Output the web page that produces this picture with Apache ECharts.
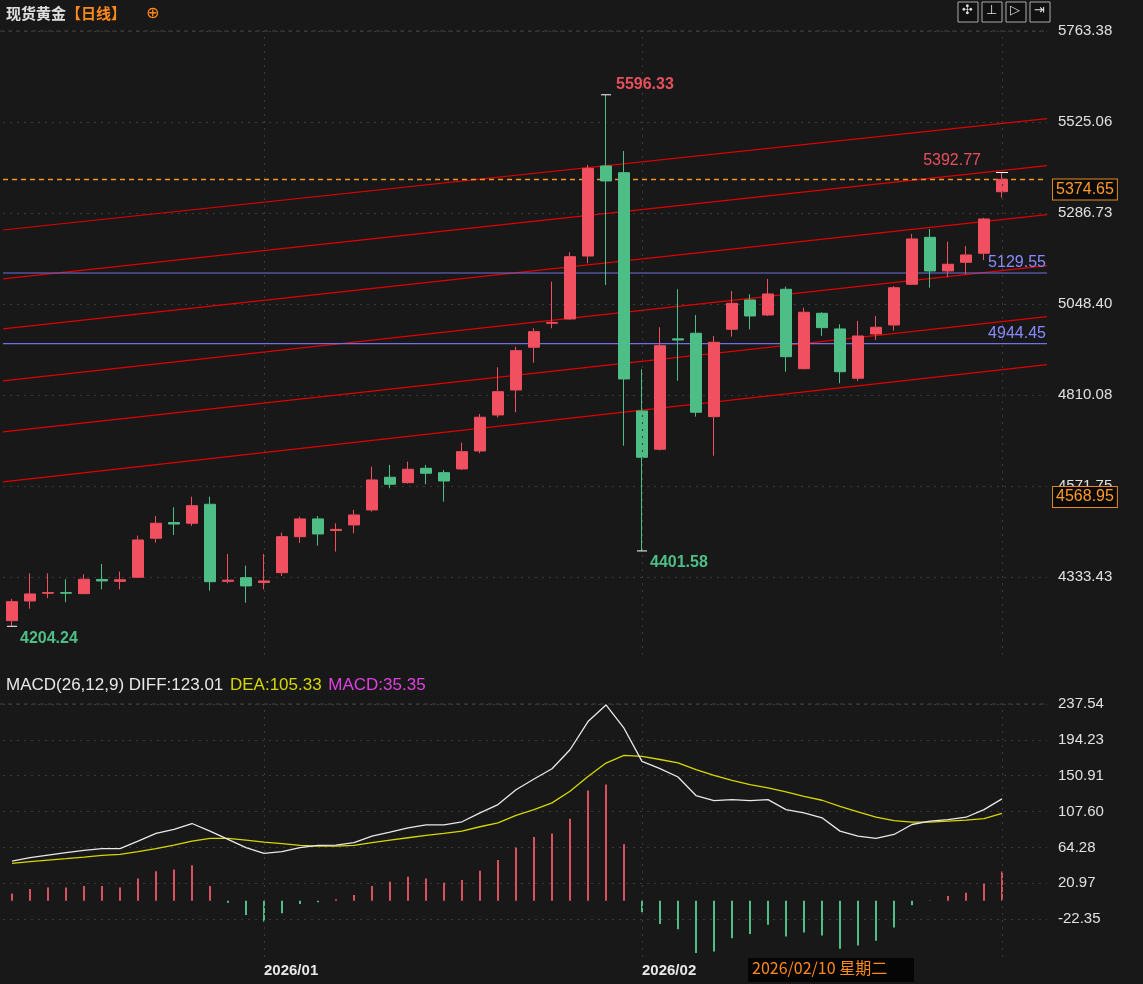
<!DOCTYPE html>
<html><head><meta charset="utf-8">
<script src="https://cdn.jsdelivr.net/npm/echarts@6/dist/echarts.min.js"></script>
<style>html,body{margin:0;padding:0;background:#181818;}#c{width:1143px;height:984px;}</style>
</head><body><div id="c"></div>
<script>
const openP=[4219,4270.5,4290.8,4292.4,4289.7,4326.9,4322,4332.6,4434.8,4476,4474,4523.8,4322,4331.6,4319,4344.7,4439,4485.4,4455,4469.7,4509,4594.6,4580.4,4618,4606.6,4616.3,4663.4,4757.7,4823.2,4935,4998,5009.1,5174,5409.9,5392.3,4768.2,4667.9,4957,4971.7,4753.3,4982.2,5058.9,5019.6,5086.9,4879,5024,4983,4853.8,4969.9,4993.4,5100,5223,5134.9,5157.6,5181.2,5342.5];
const closeP=[4268.7,4288.9,4292.4,4290.8,4327.4,4323,4326,4430.3,4474,4472,4520.2,4321,4325,4309.9,4323,4439,4485.4,4446,4458,4495.8,4587.5,4576.2,4615.5,4605,4584.8,4661.6,4751.7,4818.7,4926.1,4975.9,5000,5172.3,5403.8,5370.6,4852,4646.9,4939.2,4954,4764.8,4948,5050.2,5017,5074.6,4910.4,5026.7,4986.4,4871,4964.6,4987.4,5091,5218.7,5134.9,5152.4,5176.8,5271,5374.65];
const lowP=[4204.24,4250.4,4277.7,4267.2,4289,4301,4301,4331,4423.3,4443.4,4467,4297.5,4316.9,4266,4301,4336,4423,4415.5,4399.7,4447.9,4504.5,4565.7,4578,4576.2,4530.7,4614,4657.4,4750.6,4764.8,4894.7,4984.8,5007,5155,5098.2,4677.3,4401.58,4665,4847.6,4753.3,4651,4962.8,4982,5017,4871,4877,4964.6,4840.7,4846.8,4954.1,4978.5,5098,5091,5118.4,5126.2,5163.7,5326.8];
const highP=[4275.8,4343,4343,4327.4,4340.6,4367.5,4347.3,4441.6,4493,4516,4543.7,4543.7,4393.7,4363,4393.7,4449.5,4491.5,4493,4474,4509,4622.3,4626.8,4635.4,4626.8,4613.7,4685,4760.4,4882.6,4936.6,4984.8,5106.8,5183.8,5412.5,5596.33,5449,4877.4,4987.4,5087,5019.6,4964.6,5082.5,5073.8,5113.9,5093.7,5038.7,5026.7,4995.3,5003.9,5017,5095.6,5231.8,5244.9,5211.6,5200.3,5274.4,5392.77];
const diff=[47.9,52,55.1,58,60.8,62.8,62.8,71.9,81.2,86,93.2,84,74,64,57.2,59.2,64,66.8,67.2,70,77.9,82.8,88,91.6,91.6,95.3,106.1,116.1,134,147,159.4,182.3,216.3,236.4,208.3,168.2,159.4,149.4,127,120.9,122.1,120.9,122.1,110,106.1,100.1,84,78,75.2,80,92,96,98,100.8,110,123.01];
const dea=[45.1,47.2,49.1,50.8,52.7,54.7,55.9,59.2,62.8,67.1,71.9,75.2,75.2,73.1,70.7,68.8,66.8,66,66,66.8,70,73.1,76,78.8,81.2,84,89.3,94.1,103,110,118.1,132.1,150.1,166.2,175.4,174.2,170.5,166.5,158.2,151.3,145.3,140.2,136.2,131.4,126,121.3,114,107.3,100.8,96.8,94.8,94.8,96,97.2,99.2,105.33];
const macd=[8.8,14.1,16,16,17.7,17.7,16,26.8,35.7,37.7,42.9,17.7,-2.4,-17.2,-25.3,-15.3,-4,-2,1.6,6.9,17.7,22.9,28.9,26.8,21.7,24.9,36.1,49,64.1,77,81,99,133.1,140.4,68.2,-14,-28.1,-34.5,-63.3,-61.4,-45.3,-40.1,-29.2,-43.3,-38.5,-42.1,-58.1,-54.1,-48.5,-32.5,-5.6,-0.5,5.6,9.6,20.5,35.35];
const priceTicks=[5763.38,5525.06,5286.73,5048.40,4810.08,4571.75,4333.43];
const macdTicks=[237.54,194.23,150.91,107.60,64.28,20.97,-22.35];
const monthLabels={14:'2026/01',35:'2026/02'};
const slotCount=58;
const channelStart=[5242.2,5113.9,4983,4846.8,4713.2,4582.2];
const channelEnd=[5533.7,5410.6,5282.3,5148.7,5015.2,4889.4];
const supportLevels=[5129.55,4944.45];
const lastPrice=5374.65, refPrice=4568.95;
const crossLabel='2026/02/10 星期二';

const cats=[];for(let i=0;i<slotCount;i++)cats.push(String(i));
const kData=openP.map((o,i)=>[o,closeP[i],lowP[i],highP[i]]);
const UP='#f0505f',DN='#4fbd86';
const fmt2=v=>v.toFixed(2);
const vLines=Object.keys(monthLabels).map(k=>({xAxis:Number(k)})).concat([{xAxis:55}]);
const boxLabel={show:true,position:'right',color:'#ff9a2a',fontSize:16,backgroundColor:'#0a0a0a',borderColor:'#e08a20',borderWidth:1,padding:[2,3],distance:6};
const X0=-0.5,X1=slotCount-0.5;

function hLine(v,lineStyle,label){return {type:'line',xAxisIndex:1,yAxisIndex:0,silent:true,z:2,symbol:'circle',symbolSize:0.1,lineStyle,itemStyle:{color:'rgba(0,0,0,0)'},
  data:[[X0,v],{value:[X1,v],label}]};}
const channelSeries=channelStart.map((s,i)=>({type:'line',xAxisIndex:1,yAxisIndex:0,data:[[X0,s],[X1,channelEnd[i]]],symbol:'none',lineStyle:{color:'#e00000',width:1.2},silent:true,z:1}));
function mlSeries(xi,yi,data,lineStyle,z){return {type:'line',xAxisIndex:xi,yAxisIndex:yi,data:[],z:z||2,markLine:{symbol:'none',silent:true,animation:false,data,lineStyle,label:{show:false}}};}

const chart=echarts.init(document.getElementById('c'));
chart.setOption({
 backgroundColor:'#181818',animation:false,
 grid:[{left:3,right:96,top:31,height:624},{left:3,right:96,top:704,height:253}],
 xAxis:[
  {type:'category',gridIndex:0,data:cats,axisLine:{show:false},axisTick:{show:false},axisLabel:{show:false},splitLine:{show:false}},
  {type:'value',gridIndex:0,min:X0,max:X1,show:false},
  {type:'category',gridIndex:1,data:cats,position:'bottom',axisLine:{show:false},axisTick:{show:false},
   axisLabel:{interval:0,formatter:(v,i)=>monthLabels[i]||'',color:'#e8e8e8',fontSize:15,fontWeight:'bold',align:'left',margin:6},splitLine:{show:false}}
 ],
 yAxis:[
  {type:'value',gridIndex:0,position:'right',min:4129,max:5763.38,axisLine:{show:false},
   axisTick:{show:false,customValues:priceTicks},
   axisLabel:{customValues:priceTicks,formatter:fmt2,color:'#e0e0e0',fontSize:15,margin:11,fontFamily:'Arial'},
   splitLine:{show:true,lineStyle:{color:'#3a3a3a',type:[2,5]}}},
  {type:'value',gridIndex:1,position:'right',min:-68,max:237.54,axisLine:{show:false},
   axisTick:{show:false,customValues:macdTicks},
   axisLabel:{customValues:macdTicks,formatter:fmt2,color:'#e0e0e0',fontSize:15,margin:11,fontFamily:'Arial'},
   splitLine:{show:true,lineStyle:{color:'#3a3a3a',type:[2,5]}}}
 ],
 series:[
  ...channelSeries,
  mlSeries(0,0,vLines,{color:'#3a3a3a',type:[2,5],width:1},2),
  ...supportLevels.map(v=>hLine(v,{color:'#7070e0',width:1.2},{show:true,position:'left',offset:[4,-10],formatter:fmt2(v),color:'#8a8aff',fontSize:16})),
  hLine(lastPrice,{color:'#f0962a',type:[5,4],width:1.5},{...boxLabel,formatter:fmt2(lastPrice),offset:[0,10]}),
  hLine(refPrice,{opacity:0},{...boxLabel,formatter:fmt2(refPrice),offset:[0,10]}),
  {type:'candlestick',xAxisIndex:0,yAxisIndex:0,data:kData,barWidth:12,z:3,
   itemStyle:{color:UP,color0:DN,borderColor:UP,borderColor0:DN,borderWidth:1},
   markPoint:{silent:true,animation:false,data:[
     {coord:[33,highP[33]],symbol:'rect',symbolSize:[10,1],itemStyle:{color:'#fff'},label:{show:true,formatter:fmt2(highP[33]),position:'right',offset:[0,-10],color:'#e8505e',fontSize:16,fontWeight:'bold'}},
     {coord:[35,lowP[35]],symbol:'rect',symbolSize:[10,1],itemStyle:{color:'#fff'},label:{show:true,formatter:fmt2(lowP[35]),position:'right',offset:[-2,12],color:'#4fbd86',fontSize:16,fontWeight:'bold'}},
     {coord:[0,lowP[0]],symbol:'rect',symbolSize:[10,1],itemStyle:{color:'#fff'},label:{show:true,formatter:fmt2(lowP[0]),position:'right',offset:[-2,12],color:'#4fbd86',fontSize:16,fontWeight:'bold'}},
     {coord:[55,highP[55]],symbol:'rect',symbolSize:[12,1],itemStyle:{color:'#fff'},label:{show:true,formatter:fmt2(highP[55]),position:'left',offset:[-10,-12],color:'#e8505e',fontSize:16}}
   ]}
  },
  mlSeries(2,1,vLines,{color:'#3a3a3a',type:[2,5],width:1},1),
  {type:'bar',xAxisIndex:2,yAxisIndex:1,data:macd.map(v=>({value:v,itemStyle:{color:v>=0?'#d9505e':'#4fbd86'}})),barWidth:2},
  {type:'line',xAxisIndex:2,yAxisIndex:1,data:diff,symbol:'none',lineStyle:{color:'#e8e8e8',width:1.3},z:4},
  {type:'line',xAxisIndex:2,yAxisIndex:1,data:dea,symbol:'none',lineStyle:{color:'#d6d600',width:1.3},z:3}
 ],
 graphic:[
  {type:'line',shape:{x1:0,y1:31,x2:1047,y2:31},style:{stroke:'#444',lineDash:[4,4]}},
  {type:'line',shape:{x1:0,y1:704,x2:1047,y2:704},style:{stroke:'#444',lineDash:[4,4]}},
  {type:'text',left:6,top:6,style:{text:'现货黄金',fill:'#e0e0e0',font:'bold 15px "Noto Sans CJK SC"'}},
  {type:'text',left:66,top:6,style:{text:'【日线】',fill:'#ff8a1a',font:'bold 15px "Noto Sans CJK SC"'}},
  {type:'text',left:146,top:6,style:{text:'⊕',fill:'#ff8a1a',font:'16px "DejaVu Sans"'}},
  {type:'text',left:6,top:677,style:{rich:{a:{fill:'#e8e8e8',font:'17px Arial'},b:{fill:'#d6d600',font:'17px Arial'},c:{fill:'#e040e0',font:'17px Arial'}},text:'{a|MACD(26,12,9) DIFF:123.01}  {b|DEA:105.33}  {c|MACD:35.35}'}},
  {type:'rect',shape:{x:748,y:958,width:166,height:24},style:{fill:'#050505'}},
  {type:'text',left:752,top:960,style:{text:crossLabel,fill:'#ff8a1a',font:'16px "Noto Sans CJK SC"'}},
  ...[0,1,2,3].map(i=>({type:'rect',shape:{x:958+i*24,y:2,width:20,height:20},style:{fill:'#111',stroke:'#aaa',lineWidth:1}})),
  ...['✣','⊥','▷','⇥'].map((t,i)=>({type:'text',left:962+i*24,top:4,style:{text:t,fill:'#ddd',font:'13px "DejaVu Sans"'}}))
 ]
});
</script></body></html>
